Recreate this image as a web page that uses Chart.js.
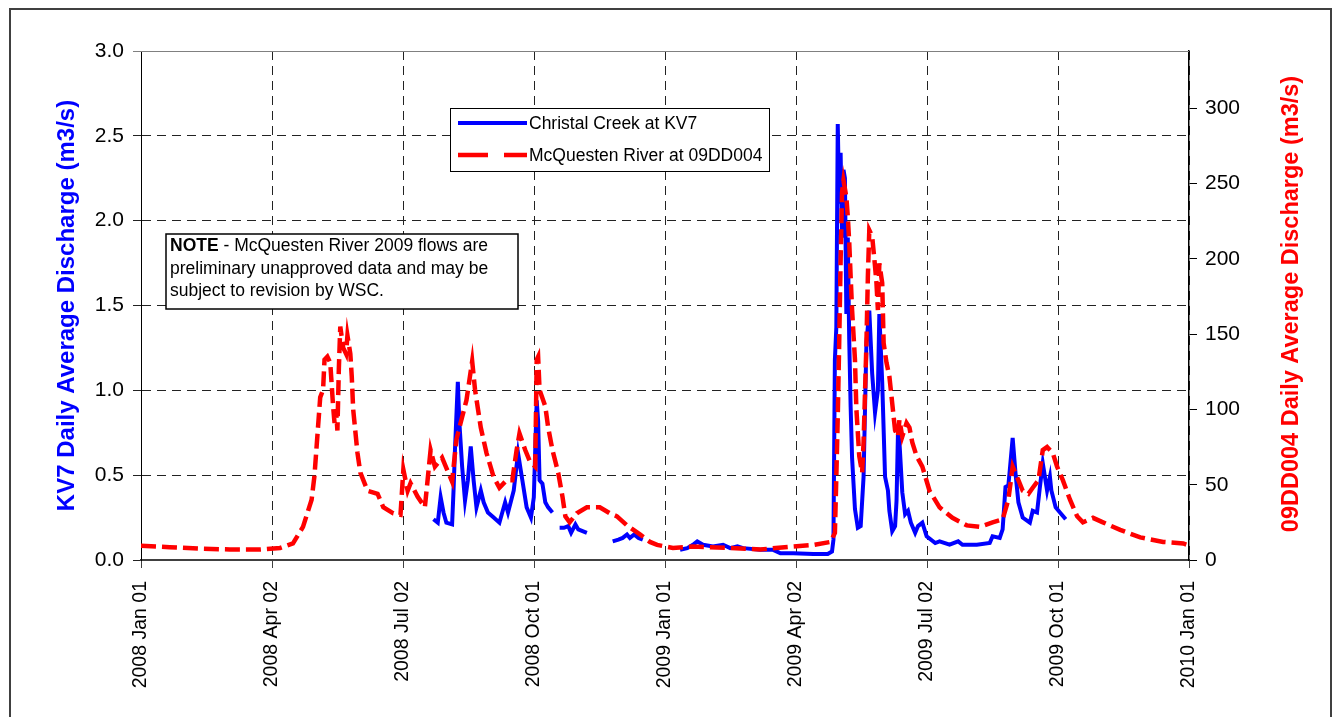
<!DOCTYPE html>
<html>
<head>
<meta charset="utf-8">
<title>KV7 and 09DD004 daily discharge</title>
<script src="https://cdn.jsdelivr.net/npm/chart.js@4.4.1/dist/chart.umd.min.js"></script>
<style>
  html, body { margin: 0; padding: 0; background: #fff; }
  canvas { display: block; }
</style>
</head>
<body>
<canvas id="flowChart" width="1333" height="717"></canvas>
<script>
const FONT = "Arial, 'Liberation Sans', sans-serif";

// date axis: 8 equal steps over 2008 Jan 01 .. 2010 Jan 01
const spanDays = 731;
const dateLabels = [
  "2008 Jan 01", "2008 Apr 02", "2008 Jul 02", "2008 Oct 01", "2009 Jan 01",
  "2009 Apr 02", "2009 Jul 02", "2009 Oct 01", "2010 Jan 01",
];

// Christal Creek at KV7 (m3/s), x = days since 2008 Jan 01, null = no record
const creekDays = [
  204, 207, 209, 211, 213, 217, 218, 219, 221, 222, 224, 226, 228, 230, 232, 234, 237, 239,
  242, 246, 250, 254, 256, 260, 263, 266, 269, 272, 274, 276, 277, 278, 280, 282, 284, 287,
  290,
  292, 295, 298, 300, 303, 305, 308, 311,
  315,
  329, 333, 336, 339, 341, 344, 347, 350,
  360,
  376, 381, 385, 388, 392, 399, 406, 411, 416, 420, 432, 441, 446, 455, 469, 479, 482, 483,
  484, 485, 486, 487, 488, 489, 490, 491, 492, 493, 494, 495, 496, 498, 500, 502, 504, 506,
  508, 510, 512, 514, 515, 517, 519, 521, 522, 524, 526, 527, 528, 529, 531, 533, 535, 537,
  540, 542, 545, 548, 554, 557, 564, 570, 573, 583, 592, 594, 599, 601, 603, 605, 606, 608,
  610, 612, 615, 620, 622, 625, 627, 629, 632, 634, 635, 638, 641, 645,
];
const creekFlow = [
  0.24, 0.22, 0.37, 0.28, 0.22, 0.21, 0.41, 0.65, 1.05, 0.82, 0.55, 0.35, 0.47, 0.67, 0.47, 0.31, 0.41, 0.34,
  0.28, 0.25, 0.22, 0.34, 0.28, 0.41, 0.63, 0.47, 0.31, 0.25, 0.37, 0.94, 0.82, 0.47, 0.45, 0.34, 0.31, 0.28,
  null,
  0.19, 0.19, 0.20, 0.16, 0.21, 0.18, 0.17, 0.16,
  null,
  0.11, 0.12, 0.13, 0.15, 0.13, 0.15, 0.13, 0.12,
  null,
  0.06, 0.07, 0.09, 0.11, 0.09, 0.08, 0.09, 0.07, 0.08, 0.07, 0.06, 0.06, 0.04, 0.04, 0.035, 0.035, 0.05, 0.12,
  1.18, 1.37, 2.57, 2.10, 2.40, 1.90, 2.30, 2.25, 1.45, 1.90, 1.30, 0.90, 0.60, 0.30, 0.19, 0.20, 0.49, 1.28,
  1.47, 1.10, 0.87, 1.00, 1.45, 1.05, 0.49, 0.41, 0.29, 0.17, 0.20, 0.35, 0.75, 0.70, 0.40, 0.27, 0.29, 0.22,
  0.16, 0.20, 0.22, 0.14, 0.10, 0.11, 0.09, 0.11, 0.09, 0.09, 0.10, 0.14, 0.13, 0.18, 0.43, 0.44, 0.53, 0.72,
  0.51, 0.34, 0.25, 0.22, 0.29, 0.28, 0.43, 0.57, 0.41, 0.49, 0.41, 0.31, 0.28, 0.24,
];

// McQuesten River at 09DD004 (m3/s)
const riverDays = [
  0, 20, 41, 62, 83, 97, 106, 113, 119, 121, 123, 125, 127, 128, 130, 132, 134, 135, 136, 137,
  138, 139, 141, 143, 144, 146, 147, 148, 151, 153, 158, 165, 169, 176, 181, 183, 186, 188, 193, 198,
  202, 205, 210, 217, 220, 224, 227, 231, 233, 237, 241, 246, 250, 255, 259, 262, 264, 268, 271, 275,
  276, 277, 278, 282, 284, 287, 291, 294, 296, 299, 304, 311, 320, 327, 332, 339, 348, 355, 360, 371,
  385, 409, 432, 455, 469, 481, 484, 485, 486, 487, 488, 489, 490, 492, 493, 494, 495, 496, 498, 499,
  501, 503, 504, 506, 507, 508, 510, 512, 513, 514, 515, 517, 518, 520, 522, 524, 526, 528, 529, 531,
  534, 536, 538, 541, 545, 550, 557, 566, 576, 585, 594, 601, 605, 608, 612, 615, 619, 622, 626, 629,
  632, 636, 639, 643, 648, 653, 657, 664, 671, 683, 697, 713, 727, 730,
];
const riverFlow = [
  9.5, 8.5, 7.5, 7, 7, 8, 11, 22, 40, 56, 82, 108, 113, 133, 135, 131, 102, 91, 100, 86,
  127, 155, 141, 137, 149, 137, 122, 100, 71, 58, 46, 44, 35, 31, 30, 60, 46, 51, 42, 35,
  73, 62, 68, 52, 80, 95, 106, 132, 113, 88, 71, 55, 48, 53, 53, 73, 84, 73, 66, 62,
  133, 135, 113, 102, 88, 73, 58, 42, 29, 25, 31, 35, 35, 31, 29, 23, 17, 12, 10, 8,
  9, 8, 7, 9, 10, 12, 18, 55, 95, 144, 199, 244, 252, 241, 228, 211, 188, 166, 133, 100,
  69, 58, 78, 144, 188, 219, 215, 195, 184, 166, 197, 184, 144, 131, 122, 104, 86, 82, 93, 82,
  91, 88, 78, 69, 62, 46, 35, 28, 23, 22, 25, 27, 40, 62, 53, 46, 44, 48, 53, 73,
  75, 71, 62, 53, 40, 29, 25, 28, 25, 20, 15, 12, 11, 10,
];

const creekColor = "#0000ff";
const riverColor = "#ff0000";

// legend, note box, outer frame and the right-hand title (drawn reading upwards)
const overlay = {
  id: "overlay",
  afterDraw(chart) {
    const { ctx, chartArea: a } = chart;
    ctx.save();

    ctx.strokeStyle = "#404040";
    ctx.lineWidth = 2;
    ctx.strokeRect(10, 9, 1321, 730);

    ctx.strokeStyle = "#808080";
    ctx.lineWidth = 1;
    ctx.beginPath();
    ctx.moveTo(a.left - 8, a.top + 0.5);
    ctx.lineTo(a.right, a.top + 0.5);
    ctx.stroke();

    // right axis title
    ctx.save();
    ctx.translate(1292, 304);
    ctx.rotate(-Math.PI / 2);
    ctx.fillStyle = riverColor;
    ctx.font = "bold 23.5px " + FONT;
    ctx.textAlign = "center";
    ctx.textBaseline = "middle";
    ctx.fillText("09DD004 Daily Average Discharge (m3/s)", 0, 0);
    ctx.restore();

    // legend
    ctx.fillStyle = "#fff";
    ctx.fillRect(450, 108, 319, 63);
    ctx.strokeStyle = "#000";
    ctx.lineWidth = 1;
    ctx.strokeRect(450.5, 108.5, 319, 63);
    ctx.lineWidth = 4;
    ctx.strokeStyle = creekColor;
    ctx.beginPath();
    ctx.moveTo(458, 123);
    ctx.lineTo(527, 123);
    ctx.stroke();
    ctx.strokeStyle = riverColor;
    ctx.lineWidth = 4.5;
    ctx.setLineDash([30, 16]);
    ctx.beginPath();
    ctx.moveTo(458, 155);
    ctx.lineTo(527, 155);
    ctx.stroke();
    ctx.setLineDash([]);
    ctx.fillStyle = "#000";
    ctx.font = "17.5px " + FONT;
    ctx.textBaseline = "middle";
    ctx.fillText("Christal Creek at KV7", 529, 124);
    ctx.fillText("McQuesten River at 09DD004", 529, 156);

    // note
    ctx.fillStyle = "#fff";
    ctx.fillRect(166, 234, 352, 75);
    ctx.strokeStyle = "#000";
    ctx.lineWidth = 1.5;
    ctx.strokeRect(166, 234, 352, 75);
    ctx.fillStyle = "#000";
    ctx.font = "bold 17.5px " + FONT;
    ctx.fillText("NOTE", 170, 246);
    const w = ctx.measureText("NOTE").width;
    ctx.font = "17.5px " + FONT;
    ctx.fillText(" - McQuesten River 2009 flows are", 170 + w, 246);
    ctx.fillText("preliminary unapproved data and may be", 170, 269);
    ctx.fillText("subject to revision by WSC.", 170, 291);

    ctx.restore();
  },
};

new Chart(document.getElementById("flowChart"), {
  type: "line",
  plugins: [overlay],
  data: {
    datasets: [
      {
        label: "Christal Creek at KV7",
        data: creekDays.map((d, i) => ({ x: d, y: creekFlow[i] })),
        borderColor: creekColor,
        borderWidth: 4,
        pointRadius: 0,
        tension: 0,
        spanGaps: false,
        yAxisID: "y",
        order: 2,
      },
      {
        label: "McQuesten River at 09DD004",
        data: riverDays.map((d, i) => ({ x: d, y: riverFlow[i] })),
        borderColor: riverColor,
        borderWidth: 4.5,
        borderDash: [15, 6],
        pointRadius: 0,
        tension: 0,
        yAxisID: "y2",
        order: 1,
      },
    ],
  },
  options: {
    responsive: false,
    animation: false,
    layout: { padding: { top: 51, left: 0, right: 0, bottom: 0 } },
    plugins: {
      legend: { display: false },
      tooltip: { enabled: false },
    },
    scales: {
      x: {
        type: "linear",
        min: 0,
        max: spanDays,
        afterFit: (s) => { s.height = 157; },
        afterBuildTicks: (s) => {
          s.ticks = dateLabels.map((_, i) => ({ value: (i * spanDays) / 8 }));
        },
        ticks: {
          autoSkip: false,
          maxRotation: 90,
          minRotation: 90,
          padding: 13,
          color: "#000",
          font: { family: FONT, size: 19.5 },
          callback: (v, i) => dateLabels[i],
        },
        grid: { color: "#222", tickLength: 8, tickColor: "#404040" },
        border: { color: "#404040", width: 2, dash: [9, 6] },
      },
      y: {
        position: "left",
        min: 0,
        max: 3,
        afterFit: (s) => { s.width = 141; },
        ticks: {
          stepSize: 0.5,
          padding: 9,
          color: "#000",
          font: { family: FONT, size: 21 },
          callback: (v) => v.toFixed(1),
        },
        grid: { color: "#222", tickLength: 8, tickColor: "#222" },
        border: { color: "#000", width: 1, dash: [9, 6] },
        title: {
          display: true,
          text: "KV7 Daily Average Discharge (m3/s)",
          color: creekColor,
          font: { family: FONT, size: 24, weight: "bold" },
          padding: { top: 53, bottom: 0 },
        },
      },
      y2: {
        position: "right",
        min: 0,
        max: 338,
        afterFit: (s) => { s.width = 144; },
        ticks: {
          stepSize: 50,
          includeBounds: false,
          padding: 8,
          color: "#000",
          font: { family: FONT, size: 21 },
        },
        grid: { drawOnChartArea: false, tickLength: 8, tickColor: "#000" },
        border: { color: "#000", width: 1.5 },
      },
    },
  },
});
</script>
</body>
</html>
